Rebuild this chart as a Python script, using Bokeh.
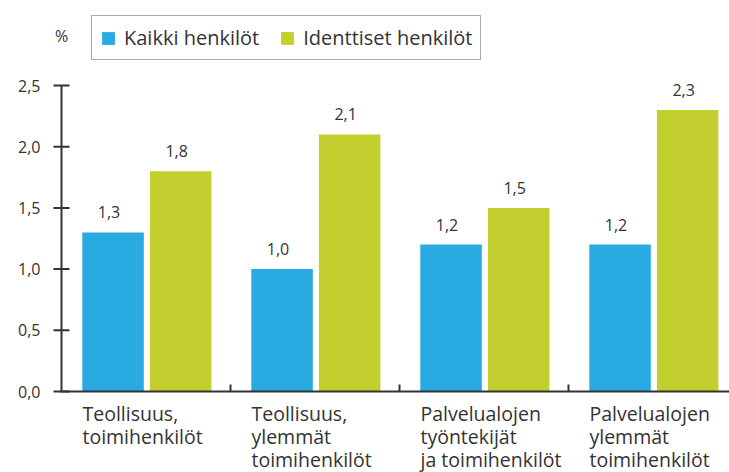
from bokeh.plotting import figure
from bokeh.models import Range1d, Legend, LegendItem, FixedTicker, ColumnDataSource
from bokeh.core.properties import value
from bokeh.embed import file_html
from bokeh.resources import INLINE

# ---- data ----
categories = [
    ["Teollisuus,", "toimihenkilöt"],
    ["Teollisuus,", "ylemmät", "toimihenkilöt"],
    ["Palvelualojen", "työntekijät", "ja toimihenkilöt"],
    ["Palvelualojen", "ylemmät", "toimihenkilöt"],
]
series_names = ["Kaikki henkilöt", "Identtiset henkilöt"]
kaikki = [1.3, 1.0, 1.2, 1.2]
identtiset = [1.8, 2.1, 1.5, 2.3]
y_ticks = [0.0, 0.5, 1.0, 1.5, 2.0, 2.5]
y_tick_labels = ["0,0", "0,5", "1,0", "1,5", "2,0", "2,5"]
unit_label = "%"

# ---- style ----
FONT = "Open Sans"
BLUE = "#29abe2"
GREEN = "#c2cf2f"
AXIS = "#333333"
TEXT = "#333333"

W, H = 729, 472
LEFT = 45            # frame left (px)
AX0 = 61             # pixel of x = 0 (y axis line)
CAT_PX = 169.0       # pixels per category
Y0_PX = 391          # pixel of y = 0
PX_PER_UNIT = 122.4  # pixels per y unit

xr = Range1d(-(AX0 - LEFT) / CAT_PX, (W - AX0) / CAT_PX)
yr = Range1d(-(H - Y0_PX) / PX_PER_UNIT, Y0_PX / PX_PER_UNIT)

p = figure(width=W, height=H, output_backend="svg", toolbar_location=None,
           x_range=xr, y_range=yr, x_axis_location=None,
           min_border_left=LEFT, min_border_right=0, min_border_top=0,
           min_border_bottom=0)
p.outline_line_color = None
p.grid.visible = False

n = len(categories)
idx = list(range(n))
bar_w = 0.364
x_blue = [i + 0.305 for i in idx]
x_green = [i + 0.705 for i in idx]

src_b = ColumnDataSource(dict(x=x_blue, top=kaikki,
                              lab=[f"{v:.1f}".replace(".", ",") for v in kaikki]))
src_g = ColumnDataSource(dict(x=x_green, top=identtiset,
                              lab=[f"{v:.1f}".replace(".", ",") for v in identtiset]))

rb = p.vbar(x="x", top="top", width=bar_w, source=src_b, fill_color=BLUE, line_color=None)
rg = p.vbar(x="x", top="top", width=bar_w, source=src_g, fill_color=GREEN, line_color=None)

for src in (src_b, src_g):
    p.text(x="x", y="top", text="lab", source=src, text_font=value(FONT),
           text_font_size="16px", text_color=TEXT, text_align="center",
           text_baseline="alphabetic", x_offset=-4, y_offset=-20)

# y axis: labels from the axis, line and ticks drawn in the frame
ya = p.yaxis[0]
ya.ticker = FixedTicker(ticks=y_ticks)
ya.major_label_overrides = {t: l for t, l in zip(y_ticks, y_tick_labels)}
ya.axis_line_color = None
ya.major_tick_line_color = None
ya.minor_tick_line_color = None
ya.major_tick_in = 0
ya.major_tick_out = 0
ya.major_label_text_font = FONT
ya.major_label_text_font_size = "16px"
ya.major_label_text_color = TEXT
ya.major_label_standoff = 5

tick_dx = 8 / CAT_PX
p.segment(x0=[0], y0=[0], x1=[0], y1=[y_ticks[-1]], line_color=AXIS, line_width=2)
p.segment(x0=[-tick_dx] * len(y_ticks), y0=y_ticks, x1=[tick_dx] * len(y_ticks),
          y1=y_ticks, line_color=AXIS, line_width=2)

# x axis baseline and category separators
p.segment(x0=[-1 / CAT_PX], y0=[0], x1=[xr.end], y1=[0], line_color=AXIS, line_width=2)
sep = idx[1:]
p.segment(x0=sep, y0=[0] * len(sep), x1=sep, y1=[7 / PX_PER_UNIT] * len(sep),
          line_color=AXIS, line_width=2)

# category labels, left aligned under each group
line_y = [-0.180, -0.368, -0.556]
lx, ly, lt = [], [], []
for i, lines in enumerate(categories):
    for j, t in enumerate(lines):
        lx.append(i + 0.124)
        ly.append(line_y[j])
        lt.append(t)
p.text(x=lx, y=ly, text=lt, text_font=value(FONT), text_font_size="19.5px",
       text_color=TEXT, text_align="left", text_baseline="alphabetic")

# unit label
p.text(x=[0], y=[2.908], text=[unit_label], text_font=value(FONT),
       text_font_size="16px", text_color=TEXT, text_align="center",
       text_baseline="alphabetic")

legend = Legend(items=[LegendItem(label=series_names[0], renderers=[rb]),
                       LegendItem(label=series_names[1], renderers=[rg])],
                orientation="horizontal", location=(46, 412),
                label_text_font=FONT, label_text_font_size="20px",
                label_text_color=TEXT, glyph_width=16, glyph_height=16,
                label_standoff=8, spacing=20, padding=8, margin=0,
                border_line_color="#555555", border_line_width=1,
                background_fill_alpha=1)
p.add_layout(legend)

open("out.html", "w").write(file_html(p, INLINE))
